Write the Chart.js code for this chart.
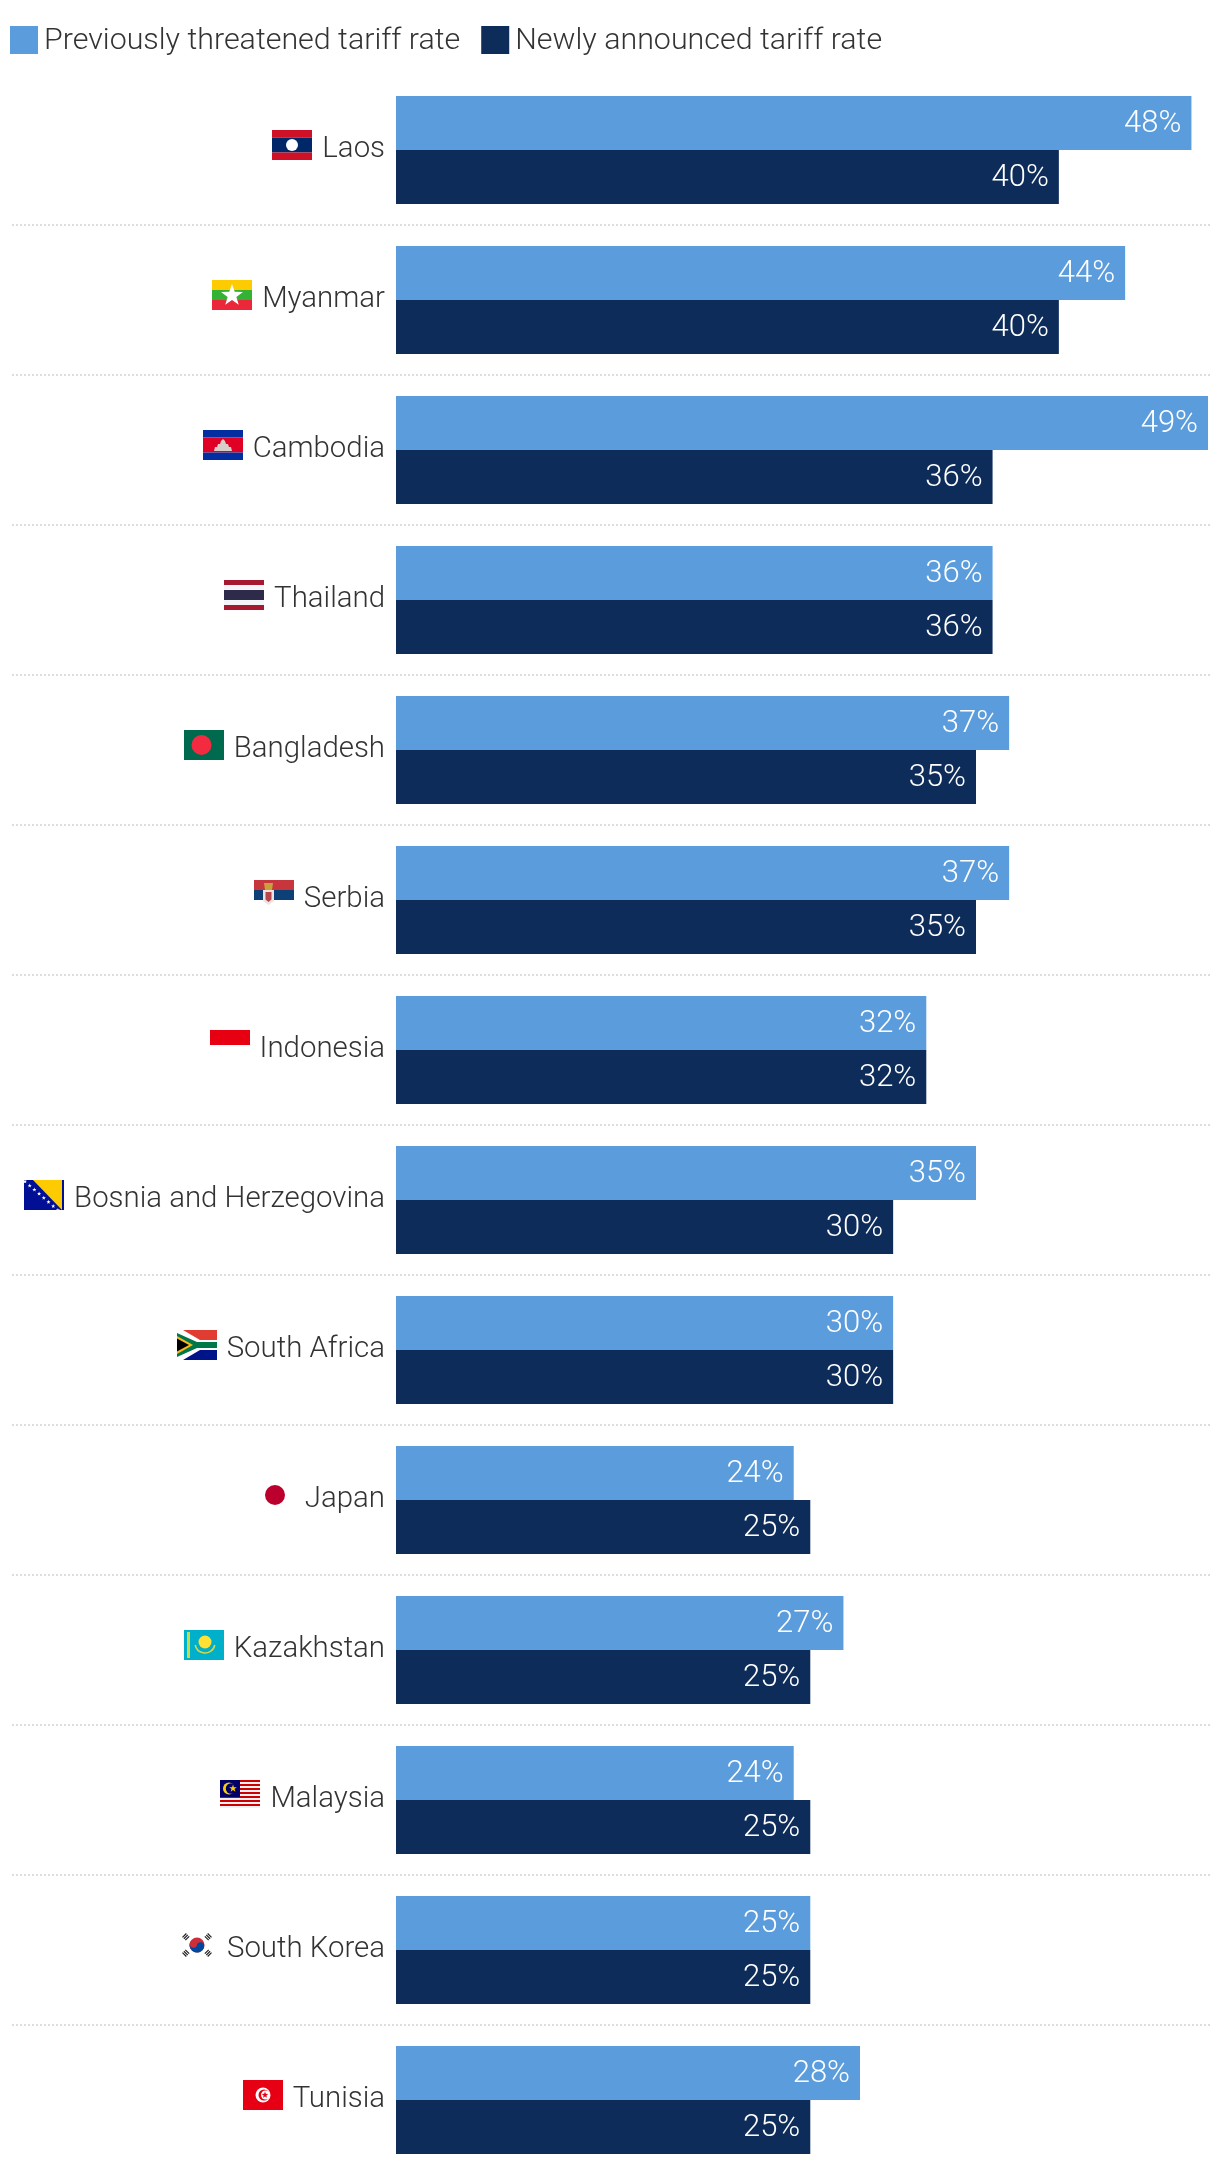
<!DOCTYPE html>
<html>
<head>
<meta charset="utf-8">
<title>Tariff rates</title>
<script src="https://cdn.jsdelivr.net/npm/chart.js@4"></script>
<style>
    html, body { margin: 0; padding: 0; background: #fff; height: 2164px; overflow: hidden; }
    canvas { display: block; }
</style>
</head>
<body>
<canvas id="tariffChart" width="1220" height="2175"></canvas>
<script>
const countries = ['Laos', 'Myanmar', 'Cambodia', 'Thailand', 'Bangladesh', 'Serbia', 'Indonesia',
    'Bosnia and Herzegovina', 'South Africa', 'Japan', 'Kazakhstan', 'Malaysia', 'South Korea', 'Tunisia'];
const previousRates = [48, 44, 49, 36, 37, 37, 32, 35, 30, 24, 27, 24, 25, 28];
const newRates = [40, 40, 36, 36, 35, 35, 32, 30, 30, 25, 25, 25, 25, 25];
const seriesNames = ['Previously threatened tariff rate', 'Newly announced tariff rate'];
const seriesColors = ['#5A9CDC', '#0D2C59'];

const fontFamily = 'Roboto';
const tickSize = 29.4;
const tickFont = '300 ' + tickSize + 'px ' + fontFamily;
const legendFont = '300 30.4px ' + fontFamily;
const valueFont = '300 31px ' + fontFamily;

// flags are 40x30, drawn from their top left corner
function stripes(ctx, colors, sizes) {
    let y = 0;
    colors.forEach((c, i) => {
        ctx.fillStyle = c;
        ctx.fillRect(0, y, 40, sizes[i]);
        y += sizes[i];
    });
}
function disc(ctx, x, y, r, color) {
    ctx.fillStyle = color;
    ctx.beginPath();
    ctx.arc(x, y, r, 0, Math.PI * 2);
    ctx.fill();
}
function star(ctx, x, y, r, color) {
    ctx.fillStyle = color;
    ctx.beginPath();
    for (let i = 0; i < 10; i++) {
        const rad = i % 2 ? r * 0.4 : r;
        const a = -Math.PI / 2 + i * Math.PI / 5;
        ctx.lineTo(x + rad * Math.cos(a), y + rad * Math.sin(a));
    }
    ctx.closePath();
    ctx.fill();
}
function poly(ctx, pts, color) {
    ctx.fillStyle = color;
    ctx.beginPath();
    pts.forEach(p => ctx.lineTo(p[0], p[1]));
    ctx.closePath();
    ctx.fill();
}

const flagPainters = {
    'Laos': ctx => {
        stripes(ctx, ['#CE1126', '#002868', '#CE1126'], [7.5, 15, 7.5]);
        disc(ctx, 20, 15, 6, '#fff');
    },
    'Myanmar': ctx => {
        stripes(ctx, ['#FECB00', '#34B233', '#EA2839'], [10, 10, 10]);
        star(ctx, 20, 15.5, 11.5, '#fff');
    },
    'Cambodia': ctx => {
        stripes(ctx, ['#032EA1', '#E00025', '#032EA1'], [7.5, 15, 7.5]);
        poly(ctx, [[11, 21], [12, 17], [14, 17], [15, 14], [17, 14], [18, 11], [20, 9], [22, 11], [23, 14],
            [25, 14], [26, 17], [28, 17], [29, 21]], '#D8CFCB');
    },
    'Thailand': ctx => {
        stripes(ctx, ['#A51931', '#F4F5F8', '#2D2A4A', '#F4F5F8', '#A51931'], [5, 5, 10, 5, 5]);
    },
    'Bangladesh': ctx => {
        stripes(ctx, ['#006A4E'], [30]);
        disc(ctx, 17.5, 15, 10, '#F42A41');
    },
    'Serbia': ctx => {
        stripes(ctx, ['#C6363C', '#0C4076'], [10, 10]);
        poly(ctx, [[10, 3], [19, 3], [18, 10], [11, 10]], '#C9A13C');
        poly(ctx, [[9, 10], [20, 10], [20, 21], [14.5, 25], [9, 21]], '#EDE3E0');
        poly(ctx, [[11.5, 12], [17.5, 12], [17.5, 19.5], [14.5, 22], [11.5, 19.5]], '#B8474B');
    },
    'Indonesia': ctx => {
        stripes(ctx, ['#E70011'], [15]);
    },
    'Bosnia and Herzegovina': ctx => {
        stripes(ctx, ['#000F94'], [30]);
        poly(ctx, [[9, 0], [38, 0], [38, 30]], '#FECB00');
        ctx.fillStyle = '#000F94';
        ctx.fillRect(38, 0, 2, 30);
        for (let i = 0; i < 8; i++) star(ctx, 1 + i * 4.7, 1.5 + i * 4.1, 2.2, '#fff');
    },
    'South Africa': ctx => {
        stripes(ctx, ['#E03C31', '#001489'], [15, 15]);
        poly(ctx, [[0, 0], [6, 0], [23, 10], [40, 10], [40, 20], [23, 20], [6, 30], [0, 30]], '#fff');
        poly(ctx, [[0, 3], [20, 12], [40, 12], [40, 18], [20, 18], [0, 27]], '#007749');
        poly(ctx, [[0, 6], [16, 15], [0, 24]], '#FFB81C');
        poly(ctx, [[0, 8.5], [12, 15], [0, 21.5]], '#000');
    },
    'Japan': ctx => {
        disc(ctx, 20, 15, 10, '#BC002D');
    },
    'Kazakhstan': ctx => {
        stripes(ctx, ['#00AFCA'], [30]);
        ctx.fillStyle = '#C9D94A';
        ctx.fillRect(3, 2, 3, 26);
        disc(ctx, 21, 12, 6.5, '#FEE133');
        ctx.strokeStyle = '#D7D845';
        ctx.lineWidth = 1.5;
        ctx.beginPath();
        ctx.arc(21, 13, 10, 0.2, Math.PI - 0.2);
        ctx.stroke();
    },
    'Malaysia': ctx => {
        const rows = [];
        for (let i = 0; i < 14; i++) rows.push(i % 2 ? '#F2F2F2' : '#CC0001');
        stripes(ctx, rows, rows.map(() => 2));
        ctx.fillStyle = '#010066';
        ctx.fillRect(0, 0, 20, 17);
        disc(ctx, 9, 8.5, 6, '#FFCC00');
        disc(ctx, 11, 8.5, 5.2, '#010066');
        star(ctx, 13, 8.5, 4, '#FFCC00');
    },
    'South Korea': ctx => {
        disc(ctx, 20, 15, 7.5, '#CD2E3A');
        ctx.fillStyle = '#0047A0';
        ctx.beginPath();
        ctx.arc(20, 15, 7.5, 0.3, Math.PI + 0.3);
        ctx.fill();
        disc(ctx, 16.5, 14, 3.7, '#CD2E3A');
        disc(ctx, 23.5, 16, 3.7, '#0047A0');
        ctx.strokeStyle = '#222';
        ctx.lineWidth = 5.5;
        ctx.setLineDash([1.2, 0.8]);
        [[7, 5, 11, 9], [33, 5, 29, 9], [7, 25, 11, 21], [33, 25, 29, 21]].forEach(s => {
            ctx.beginPath();
            ctx.moveTo(s[0], s[1]);
            ctx.lineTo(s[2], s[3]);
            ctx.stroke();
        });
        ctx.setLineDash([]);
    },
    'Tunisia': ctx => {
        stripes(ctx, ['#E70013'], [30]);
        disc(ctx, 20, 15, 7.5, '#fff');
        disc(ctx, 21, 15, 5.5, '#E70013');
        disc(ctx, 22.5, 15, 4.5, '#fff');
        star(ctx, 22, 15, 3.5, '#E70013');
    }
};

// dotted separators between the countries
const separators = {
    id: 'separators',
    beforeDatasetsDraw(chart) {
        const { ctx, scales: { y }, chartArea } = chart;
        const band = y.getPixelForValue(1) - y.getPixelForValue(0);
        ctx.save();
        ctx.strokeStyle = '#DDDDDD';
        ctx.lineWidth = 2;
        ctx.setLineDash([2, 2]);
        for (let i = 0; i < countries.length - 1; i++) {
            const py = y.getPixelForValue(i) + band / 2;
            ctx.beginPath();
            ctx.moveTo(12, py);
            ctx.lineTo(chartArea.right + 2, py);
            ctx.stroke();
        }
        ctx.restore();
    }
};

// percentage labels inside the bar ends
const barLabels = {
    id: 'barLabels',
    afterDatasetsDraw(chart) {
        const { ctx } = chart;
        ctx.save();
        ctx.font = valueFont;
        ctx.fillStyle = '#fff';
        ctx.textAlign = 'right';
        ctx.textBaseline = 'middle';
        chart.data.datasets.forEach((ds, d) => {
            chart.getDatasetMeta(d).data.forEach((bar, i) => {
                ctx.fillText(ds.data[i] + '%', bar.x - 10, bar.y + 1);
            });
        });
        ctx.restore();
    }
};

// flags to the left of the country names
const flags = {
    id: 'flags',
    afterDraw(chart) {
        const { ctx, scales: { y }, chartArea } = chart;
        ctx.save();
        ctx.font = tickFont;
        const labelRight = chartArea.left - 11;
        countries.forEach((name, i) => {
            const w = ctx.measureText(name).width;
            ctx.save();
            ctx.translate(Math.round(labelRight - w - 10 - 40), y.getPixelForValue(i) - 20);
            flagPainters[name](ctx);
            ctx.restore();
        });
        ctx.restore();
    }
};

// legend squares and names
const topLegend = {
    id: 'topLegend',
    afterDraw(chart) {
        const { ctx } = chart;
        ctx.save();
        ctx.font = legendFont;
        ctx.textBaseline = 'middle';
        let x = 10;
        chart.data.datasets.forEach(ds => {
            ctx.fillStyle = ds.backgroundColor;
            ctx.fillRect(x, 26, 28, 28);
            ctx.fillStyle = '#333333';
            ctx.fillText(ds.label, x + 34, 41);
            x += 34 + ctx.measureText(ds.label).width + 21;
        });
        ctx.restore();
    }
};

new Chart(document.getElementById('tariffChart'), {
    type: 'bar',
    data: {
        labels: countries,
        datasets: [
            { label: seriesNames[0], data: previousRates, backgroundColor: seriesColors[0] },
            { label: seriesNames[1], data: newRates, backgroundColor: seriesColors[1] }
        ]
    },
    options: {
        indexAxis: 'y',
        responsive: false,
        animation: false,
        devicePixelRatio: 1,
        categoryPercentage: 0.72,
        barPercentage: 1,
        layout: { padding: { top: 75, right: 12, bottom: 0, left: 0 } },
        plugins: {
            legend: { display: false },
            tooltip: { enabled: false }
        },
        scales: {
            x: { display: false, min: 0, max: 49 },
            y: {
                afterFit(scale) {
                    scale.width = 396;
                    scale.paddingTop = 0;
                    scale.paddingBottom = 0;
                },
                border: { display: false },
                grid: { display: false, drawTicks: false },
                ticks: {
                    padding: 11,
                    autoSkip: false,
                    color: '#333333',
                    font: { family: fontFamily, size: tickSize, weight: '300' }
                }
            }
        }
    },
    plugins: [separators, barLabels, flags, topLegend]
});
</script>
</body>
</html>
